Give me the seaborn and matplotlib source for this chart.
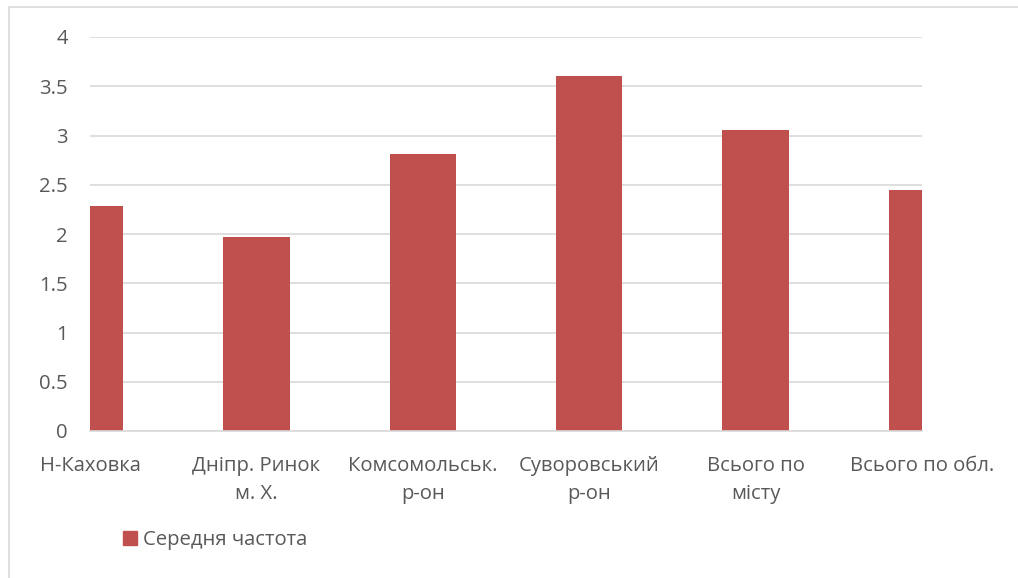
import matplotlib
matplotlib.use("Agg")
import matplotlib.pyplot as plt
import matplotlib.patches as mpatches
import seaborn as sns
import pandas as pd

categories = ["Н-Каховка", "Дніпр. Ринок\nм. Х.", "Комсомольськ.\nр-он",
              "Суворовський\nр-он", "Всього по\nмісту", "Всього по обл."]
values = [2.28, 1.97, 2.81, 3.60, 3.06, 2.45]
series_name = "Середня частота"
yticks = [0, 0.5, 1, 1.5, 2, 2.5, 3, 3.5, 4]
ytick_labels = ["0", "0.5", "1", "1.5", "2", "2.5", "3", "3.5", "4"]

sns.set_style("white")
plt.rcParams['font.family'] = ['Open Sans', 'DejaVu Sans']

BAR = "#C0504D"
TXT = "#595959"
GRID = "#D9D9D9"
FS = 14.6

W, H = 1018, 578
fig = plt.figure(figsize=(W / 100, H / 100), dpi=100)
ax = fig.add_axes([90 / W, 1 - 431 / H, (922 - 90) / W, (431 - 37) / H])

df = pd.DataFrame({"cat": categories, "val": values})
sns.barplot(data=df, x="cat", y="val", color=BAR, width=0.4, saturation=1,
            linewidth=0, ax=ax)

ax.set_xlim(0, len(categories) - 1)
ax.set_ylim(0, 4)
ax.set_yticks(yticks)
ax.set_yticklabels(ytick_labels)
ax.set_xlabel("")
ax.set_ylabel("")
ax.grid(axis="y", color=GRID, linewidth=1.2)
ax.set_axisbelow(True)
for s in ["top", "right", "left"]:
    ax.spines[s].set_visible(False)
ax.spines["bottom"].set_color(GRID)
ax.spines["bottom"].set_linewidth(1.2)
ax.tick_params(axis="both", length=0, labelsize=FS, labelcolor=TXT)
ax.tick_params(axis="y", pad=16)
ax.tick_params(axis="x", pad=18)
for lab in ax.get_xticklabels():
    lab.set_linespacing(1.55)

handle = mpatches.Patch(color=BAR, label=series_name)
fig.legend(handles=[handle], loc="center left",
           bbox_to_anchor=(123 / W, 1 - 540 / H), frameon=False,
           fontsize=FS, labelcolor=TXT, handlelength=0.7, handleheight=0.7,
           handletextpad=0.3, borderpad=0, borderaxespad=0)

border = mpatches.Rectangle((9 / W, -0.05), 1.1, (571 / H) + 0.05,
                            transform=fig.transFigure, fill=False,
                            edgecolor=GRID, linewidth=1.2)
fig.patches.append(border)

fig.savefig("out.png", dpi=100)
